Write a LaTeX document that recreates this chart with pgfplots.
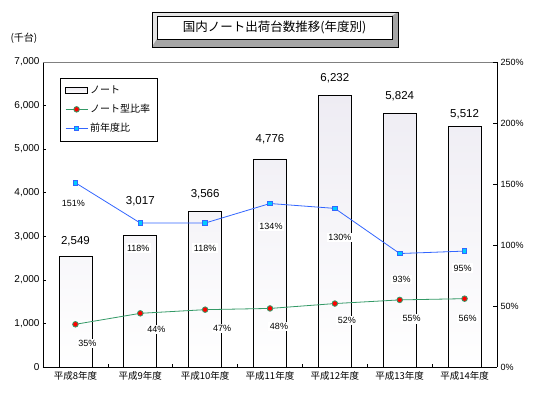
\documentclass[border=0pt]{standalone}
\usepackage{pgfplots}
\usepackage{pgfplotstable}
\pgfplotsset{compat=1.18}
\usepackage{fontspec}
\setmainfont{Liberation Sans}
\newfontfamily\jp{Noto Sans CJK JP}
\definecolor{lgreen}{RGB}{51,153,102}
\definecolor{lblue}{RGB}{51,102,255}
\definecolor{lcyan}{RGB}{0,204,255}
\definecolor{barfill}{RGB}{238,236,243}
\pgfplotstableread{
x y dy
0 2549 15
1 3017 34
2 3566 17
3 4776 20
4 6232 17
5 5824 17
6 5512 13
}\bars
\pgfplotstableread{
x y dx dy
0 35 12 -19
1 44 16 -16
2 47 17 -19
3 48 9 -18
4 52 12 -17
5 55 12 -19
6 56 3 -20
}\ratio
\pgfplotstableread{
x y dx dy
0 151 -2 -21
1 118 -2 -25
2 118 0 -25
3 134 1 -23
4 130 5 -29
5 93 2 -26
6 95 -2 -17
}\prev
\begin{document}
\begin{tikzpicture}[x=1pt,y=1pt]
\useasboundingbox (0,0) rectangle (548,395);
% title box
\fill[gray!55] (152,348) rectangle (398,383);
\fill[gray!20] (152,383) -- (398,383) -- (392,379) -- (157,379) -- (157,356) -- (152,348) -- cycle;
\fill[gray!70] (398,348) -- (398,383) -- (392,379) -- (392,356) -- (157,356) -- (152,348) -- cycle;
\draw[black, line width=0.6pt] (152,348) rectangle (398,383);
\draw[black, line width=0.5pt, fill=white] (157,356) rectangle (392,379);
\node[font=\jp\fontsize{12.5}{14}\selectfont] at (274.5,367.5) {国内ノート出荷台数推移(年度別)};
\node[font=\jp\fontsize{10}{11}\selectfont] at (24,357) {(千台)};
\begin{axis}[
  at={(43pt,28pt)}, anchor=south west,
  scale only axis, width=454pt, height=305pt,
  xmin=-0.5, xmax=6.5, ymin=0, ymax=7000,
  axis x line*=bottom, axis y line*=left,
  axis line style={black, line width=0.8pt},
  ytick={0,1000,...,7000},
  xtick={0,...,6},
  xticklabels={平成8年度,平成9年度,平成10年度,平成11年度,平成12年度,平成13年度,平成14年度},
  x tick label style={font=\jp\fontsize{9.5}{10}\selectfont, yshift=-1pt},
  major x tick style={draw=none},
  minor x tick num=1, minor tick length=3pt,
  tick align=inside, major tick length=3pt,
  tick style={black, line width=0.6pt},
  yticklabel style={font=\fontsize{10}{11}\selectfont, /pgf/number format/.cd, fixed, 1000 sep={,}},
  /pgf/number format/assume math mode=true,
  legend style={at={(rel axis cs:0.037,0.948)}, anchor=north west, draw=black, line width=0.6pt,
    font=\jp\fontsize{10}{11}\selectfont, row sep=5pt, inner xsep=5pt, inner ysep=6pt, cells={anchor=west}},
]
\addplot[draw=black, line width=0.8pt, ybar, bar width=33pt, top color=barfill, bottom color=white,
  visualization depends on={\thisrow{dy} \as \dyv},
  nodes near coords,
  nodes near coords style={font=\fontsize{11.5}{12}\selectfont, text=black, anchor=center, yshift=\dyv pt},
  legend image code/.code={\draw[black, line width=1pt, fill=white] (0pt,-3pt) rectangle (22pt,3pt);}]
  table[x=x, y=y] {\bars};
\addlegendentry{ノート}
\addlegendimage{lgreen, line width=0.8pt, mark=*, mark size=2.8pt, mark options={fill=red, draw=lgreen},
  legend image code/.code={\draw[mark repeat=2,mark phase=2] plot coordinates {(0pt,0pt) (11pt,0pt) (22pt,0pt)};}}
\addlegendentry{ノート型比率}
\addlegendimage{lblue, line width=0.8pt, mark=square*, mark size=2.3pt, mark options={fill=lcyan, draw=lblue},
  legend image code/.code={\draw[mark repeat=2,mark phase=2] plot coordinates {(0pt,0pt) (11pt,0pt) (22pt,0pt)};}}
\addlegendentry{前年度比}
\draw[gray, line width=0.6pt] (rel axis cs:0,1) -- (rel axis cs:1,1);
\end{axis}
\begin{axis}[
  at={(43pt,28pt)}, anchor=south west,
  scale only axis, width=454pt, height=305pt,
  xmin=-0.5, xmax=6.5, ymin=0, ymax=250,
  axis y line*=right, axis x line=none,
  axis line style={black, line width=0.8pt},
  ytick={0,50,...,250},
  yticklabel={\pgfmathprintnumber{\tick}\%},
  yticklabel style={font=\fontsize{9}{10}\selectfont},
  /pgf/number format/assume math mode=true,
  tick align=inside, major tick length=4pt,
  tick style={black, line width=0.6pt},
]
\addplot[lgreen, line width=0.8pt, mark=*, mark size=2.8pt, mark options={fill=red, draw=lgreen},
  visualization depends on={\thisrow{dx} \as \dxv},
  visualization depends on={\thisrow{dy} \as \dyv},
  nodes near coords={\pgfmathprintnumber{\pgfplotspointmeta}\%},
  nodes near coords style={font=\fontsize{9}{10}\selectfont, text=black, fill=white, inner sep=1.5pt, anchor=center, xshift=\dxv pt, yshift=\dyv pt}]
  table[x=x, y=y] {\ratio};
\addplot[lblue, line width=0.8pt, mark=square*, mark size=2.3pt, mark options={fill=lcyan, draw=lblue},
  visualization depends on={\thisrow{dx} \as \dxv},
  visualization depends on={\thisrow{dy} \as \dyv},
  nodes near coords={\pgfmathprintnumber{\pgfplotspointmeta}\%},
  nodes near coords style={font=\fontsize{9}{10}\selectfont, text=black, fill=white, inner sep=1.5pt, anchor=center, xshift=\dxv pt, yshift=\dyv pt}]
  table[x=x, y=y] {\prev};
\end{axis}
\end{tikzpicture}
\end{document}
